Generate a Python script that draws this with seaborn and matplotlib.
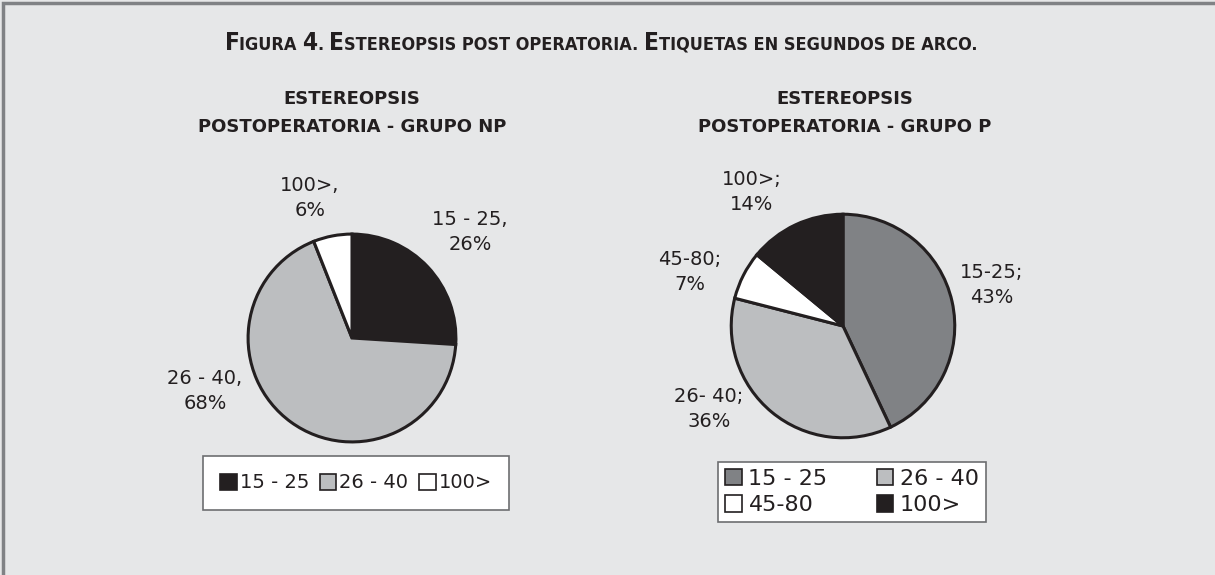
import matplotlib.pyplot as plt
import seaborn as sns
import numpy as np
from matplotlib.patches import Patch, Rectangle

# data
np_labels = ['15 - 25', '26 - 40', '100>']
np_values = [26, 68, 6]
np_colors = ['#231f20', '#bcbec0', '#ffffff']
np_text = ['15 - 25,\n26%', '26 - 40,\n68%', '100>,\n6%']

p_labels = ['15 - 25', '26 - 40', '45-80', '100>']
p_values = [43, 36, 7, 14]
p_colors = ['#808285', '#bcbec0', '#ffffff', '#231f20']
p_text = ['15-25;\n43%', '26- 40;\n36%', '45-80;\n7%', '100>;\n14%']

title = 'Figura 4. Estereopsis post operatoria. Etiquetas en segundos de arco.'

W, H = 1215, 575
bg = '#e6e7e8'
ink = '#231f20'

sns.set_theme(style='white')
plt.rcParams['font.family'] = ['DejaVu Sans']

fig = plt.figure(figsize=(W / 100, H / 100), dpi=100, facecolor=bg)

# frame
fig.patches.append(Rectangle((3 / W, -0.01), 1.02, 1 - 3 / H + 0.01, transform=fig.transFigure,
                             fill=False, edgecolor='#808285', linewidth=2.5))


def px_axes(cx, cy, r):
    return fig.add_axes([(cx - r) / W, (H - cy - r) / H, 2 * r / W, 2 * r / H])


def draw_pie(ax, values, colors):
    ax.pie(values, colors=colors, startangle=90, counterclock=False, radius=1,
           wedgeprops=dict(edgecolor=ink, linewidth=2.2))
    ax.set_xlim(-1.02, 1.02)
    ax.set_ylim(-1.02, 1.02)
    ax.set_axis_off()


ax1 = px_axes(352, 338, 106)
draw_pie(ax1, np_values, np_colors)
ax2 = px_axes(843, 326, 114)
draw_pie(ax2, p_values, p_colors)


def ftext(x, y, s, **kw):
    return fig.text(x / W, 1 - y / H, s, **kw)


# figure title in small caps, drawn piece by piece
renderer = fig.canvas.get_renderer()
runs = []
for ch in title:
    sz = 17.5 if (ch.isupper() or ch.isdigit()) else 13
    if runs and runs[-1][1] == sz:
        runs[-1][0] += ch.upper()
    else:
        runs.append([ch.upper(), sz])
tkw = dict(fontweight='bold', color=ink, fontstretch='condensed', va='baseline', ha='left')
widths = []
for s, sz in runs:
    t = fig.text(0, 0, s.replace(' ', '\u00a0'), fontsize=sz, **tkw)
    widths.append(t.get_window_extent(renderer).width)
    t.remove()
x = 601 - sum(widths) / 2
for (s, sz), w in zip(runs, widths):
    ftext(x, 50, s.replace(' ', '\u00a0'), fontsize=sz, **tkw)
    x += w

# chart titles
ftext(352, 113, 'ESTEREOPSIS\nPOSTOPERATORIA - GRUPO NP', ha='center', va='center',
      fontsize=13, fontweight='bold', color=ink, linespacing=1.7)
ftext(845, 113, 'ESTEREOPSIS\nPOSTOPERATORIA - GRUPO P', ha='center', va='center',
      fontsize=13, fontweight='bold', color=ink, linespacing=1.7)

lab_kw = dict(ha='center', va='center', fontsize=14, color=ink, linespacing=1.45)
np_pos = [(470, 232), (205, 391), (310, 198)]
for (x, y), s in zip(np_pos, np_text):
    ftext(x, y, s, **lab_kw)
p_pos = [(992, 285), (709, 409), (690, 272), (752, 192)]
for (x, y), s in zip(p_pos, p_text):
    ftext(x, y, s, **lab_kw)

# legends
h1 = [Patch(facecolor=c, edgecolor=ink, linewidth=1.2) for c in np_colors]
leg1 = fig.legend(h1, np_labels, loc='center', bbox_to_anchor=(356 / W, 1 - 483 / H),
                  ncol=3, fontsize=14, frameon=True, fancybox=False, handlelength=0.85,
                  handleheight=0.85, handletextpad=0.15, columnspacing=0.55,
                  borderpad=0.9, labelcolor=ink, framealpha=1)
leg1.get_frame().set_edgecolor('#6d6e71')
leg1.get_frame().set_facecolor('white')
leg1.get_frame().set_linewidth(1.2)

order = [0, 2, 1, 3]
h2 = [Patch(facecolor=p_colors[i], edgecolor=ink, linewidth=1.2) for i in order]
leg2 = fig.legend(h2, [p_labels[i] for i in order], loc='center',
                  bbox_to_anchor=(852 / W, 1 - 492 / H),
                  ncol=2, fontsize=16, frameon=True, fancybox=False, handlelength=0.75,
                  handleheight=0.75, handletextpad=0.3, columnspacing=2.2,
                  borderpad=0.3, labelspacing=0.3, labelcolor=ink, framealpha=1)
leg2.get_frame().set_edgecolor('#6d6e71')
leg2.get_frame().set_facecolor('white')
leg2.get_frame().set_linewidth(1.2)

fig.savefig('out.png', dpi=100, facecolor=bg)
